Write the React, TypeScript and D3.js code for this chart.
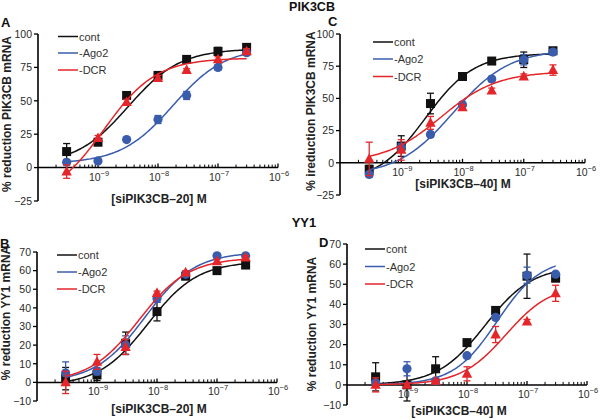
import React from 'react';
import * as d3 from 'd3';

// ---------- shared ----------
const doses = [3e-10, 1e-9, 3e-9, 1e-8, 3e-8, 1e-7, 3e-7];
const seriesNames = ['cont', '-Ago2', '-DCR'];
const seriesColors = ['#111111', '#3a5cad', '#e4262b'];
const seriesShapes = ['square', 'circle', 'triangle'];
const xMajorTicks = [1e-9, 1e-8, 1e-7, 1e-6];
const xMajorExp = ['−9', '−8', '−7', '−6'];

// ---------- Panel A : PIK3CB, siPIK3CB-20 ----------
const aCont = [12, 19, 54, 69, 81, 87, 90];
const aContErr = [6, 2, 2, 2, 2, 3, 2];
const aAgo2 = [4, 5, 21, 36, 54, 75, 86];
const aAgo2Err = [2, 1, 1, 3, 3, 2, 2];
const aDcr = [-3, 22, 49, 67, 73, 81, 87];
const aDcrErr = [5, 2, 2, 2, 1, 2, 2];
const aFits = [
  [2, 89, -8.5, 1.0],
  [3, 90, -7.75, 1.0],
  [-25, 82, -8.9, 1.0],
];
const aYTicks = [-25, 0, 25, 50, 75, 100];

// ---------- Panel C : PIK3CB, siPIK3CB-40 ----------
const cCont = [-5, 13, 46, 67, 79, 80, 87];
const cContErr = [3, 8, 8, 2, 2, 6, 2];
const cAgo2 = [-9, 12, 22, 45, 65, 80, 86];
const cAgo2Err = [2, 3, 2, 2, 2, 4, 2];
const cDcr = [3, 10, 31, 43, 56, 67, 72];
const cDcrErr = [13, 8, 5, 2, 2, 2, 4];
const cFits = [
  [-15, 85, -8.6, 1.1],
  [-10, 88, -8.15, 0.95],
  [0, 71, -8.35, 0.95],
];
const cYTicks = [-25, 0, 25, 50, 75, 100];

// ---------- Panel B : YY1, siPIK3CB-20 ----------
const bCont = [2, 4, 21, 38, 57, 60, 63];
const bContErr = [6, 3, 6, 5, 1, 1, 1];
const bAgo2 = [5, 6, 20, 45, 58, 68, 68];
const bAgo2Err = [6, 2, 5, 2, 1, 1, 1];
const bDcr = [0, 11, 19, 48, 59, 65, 67];
const bDcrErr = [6, 4, 4, 1, 1, 1, 1];
const bFits = [
  [-2, 65, -8.15, 1.05],
  [0, 70, -8.2, 1.05],
  [0, 67, -8.3, 1.05],
];
const bYTicks = [-10, 0, 10, 20, 30, 40, 50, 60, 70];

// ---------- Panel D : YY1, siPIK3CB-40 ----------
const dCont = [4, 0, 8, 21, 37, 54, 53];
const dContErr = [7, 8, 6, 1, 1, 11, 1];
const dAgo2 = [1, 8, 2, 14.5, 33.5, 54.5, 55];
const dAgo2Err = [1, 3.5, 1, 1, 1, 4, 1];
const dDcr = [0, 0, 2, 5.5, 25, 31.5, 45.5];
const dDcrErr = [3.5, 0, 0, 3.5, 4, 1, 4];
const dFits = [
  [0, 59, -7.7, 1.1],
  [0, 63, -7.5, 1.2],
  [0, 50, -7.35, 1.15],
];
const dYTicks = [-10, 0, 10, 20, 30, 40, 50, 60, 70];

const FONT = 'Liberation Sans, Arial, Helvetica, sans-serif';

function logistic(p: number[], x: number) {
  const [bottom, top, logEC, hill] = p;
  return bottom + (top - bottom) / (1 + Math.pow(10, (logEC - Math.log10(x)) * hill));
}

function fmtTick(t: number): string {
  return t < 0 ? '\u2212' + String(Math.abs(t)) : String(t);
}

function Marker({ shape, cx, cy, color }: any) {
  if (shape === 'square') {
    return <rect x={cx - 4.5} y={cy - 4.5} width={9} height={9} fill={color} />;
  }
  if (shape === 'circle') {
    return <circle cx={cx} cy={cy} r={4.6} fill={color} />;
  }
  const s = 5.2;
  return (
    <path
      d={`M${cx},${cy - s - 0.5} L${cx + s},${cy + s * 0.75} L${cx - s},${cy + s * 0.75} Z`}
      fill={color}
    />
  );
}

function Panel(props: any) {
  const {
    xRange, yRange, yDomain, yTicks, values, errors, fits, legendX, legendY,
    yLabel, yLabelX, yLabelY, xLabel, xLabelX, xLabelY, letter, letterX, letterY,
  } = props;
  const x = d3.scaleLog().domain([1e-10, 1e-6]).range(xRange);
  const y = d3.scaleLinear().domain(yDomain).range(yRange);
  const y0 = y(0);
  const ax = xRange[0];
  const minor: number[] = [];
  for (let e = -10; e < -6; e++) {
    for (let m = 2; m <= 9; m++) minor.push(m * Math.pow(10, e));
  }
  const curveXs = d3.range(0, 121).map((i) => Math.pow(10, Math.log10(3e-10) + (i / 120) * 3));
  const yTop = y(yDomain[1]);
  const yBot = y(yDomain[0]);

  return (
    <g>
      <text x={letterX} y={letterY} fontFamily={FONT} fontSize={13} fontWeight="bold" fill="#111">
        {letter}
      </text>
      <path d={`M${ax},${yTop}V${yBot}`} stroke="#000" strokeWidth={1.6} fill="none" />
      {yTicks.map((t: number) => (
        <path key={'t' + t} d={`M${ax - 4},${y(t)}H${ax}`} stroke="#000" strokeWidth={1.3} fill="none" />
      ))}
      {yTicks.map((t: number) => (
        <text
          key={'l' + t}
          x={ax - 6}
          y={y(t) + 3.8}
          fontFamily={FONT}
          fontSize={10.5}
          textAnchor="end"
          fill="#2a2a2a"
        >
          {fmtTick(t)}
        </text>
      ))}
      <path d={`M${ax},${y0}H${xRange[1]}`} stroke="#000" strokeWidth={1.5} fill="none" />
      {minor.map((m, i) => (
        <path key={i} d={`M${x(m)},${y0}V${y0 - 3}`} stroke="#000" strokeWidth={1} fill="none" />
      ))}
      {xMajorTicks.map((t, i) => (
        <g key={t}>
          <path d={`M${x(t)},${y0 - 4}V${y0}`} stroke="#000" strokeWidth={1.3} fill="none" />
          <text x={x(t) + 1} y={y0 + 13} fontFamily={FONT} fontSize={10.5} textAnchor="middle" fill="#2a2a2a">
            <tspan>10</tspan>
            <tspan dy={-5} fontSize={7.5}>
              {xMajorExp[i]}
            </tspan>
          </text>
        </g>
      ))}
      <text
        transform={`translate(${yLabelX},${yLabelY}) rotate(-90)`}
        fontFamily={FONT}
        fontSize={12}
        fontWeight="bold"
        textAnchor="middle"
        fill="#222"
      >
        {yLabel}
      </text>
      <text x={xLabelX} y={xLabelY} fontFamily={FONT} fontSize={12} fontWeight="bold" textAnchor="middle" fill="#222">
        {xLabel}
      </text>
      {values.map((vals: number[], si: number) => {
        const color = seriesColors[si];
        const path = d3
          .line<number>()
          .x((d) => x(d))
          .y((d) => y(logistic(fits[si], d)))(curveXs);
        return (
          <g key={si}>
            <path d={path || ''} fill="none" stroke={color} strokeWidth={1.5} />
            {vals.map((v, i) => {
              const e = errors[si][i];
              const cx = x(doses[i]);
              return (
                <g key={i}>
                  {e > 0 && (
                    <g stroke={color} strokeWidth={1.3}>
                      <line x1={cx} x2={cx} y1={y(v - e)} y2={y(v + e)} />
                      <line x1={cx - 3.5} x2={cx + 3.5} y1={y(v + e)} y2={y(v + e)} />
                      <line x1={cx - 3.5} x2={cx + 3.5} y1={y(v - e)} y2={y(v - e)} />
                    </g>
                  )}
                  <Marker shape={seriesShapes[si]} cx={cx} cy={y(v)} color={color} />
                </g>
              );
            })}
          </g>
        );
      })}
      {seriesNames.map((n, i) => (
        <g key={n}>
          <path d={`M${legendX},${legendY[i]}H${legendX + 20}`} stroke={seriesColors[i]} strokeWidth={1.5} />
          <text x={legendX + 21} y={legendY[i] + 4} fontFamily={FONT} fontSize={11} fill="#333">
            {n}
          </text>
        </g>
      ))}
    </g>
  );
}

export default function App() {
  return (
    <svg
      width={600}
      height={420}
      viewBox="0 0 600 420"
      style={{ position: 'absolute', left: 0, top: 0, background: '#fff' }}
    >
      <text x={312} y={10.5} fontFamily={FONT} fontSize={12.5} fontWeight="bold" textAnchor="middle" fill="#111">
        PIK3CB
      </text>
      <text x={304} y={227} fontFamily={FONT} fontSize={13} fontWeight="bold" textAnchor="middle" fill="#111">
        YY1
      </text>
      <Panel
        xRange={[38, 278]}
        yRange={[201, 34]}
        yDomain={[-25, 100]}
        yTicks={aYTicks}
        values={[aCont, aAgo2, aDcr]}
        errors={[aContErr, aAgo2Err, aDcrErr]}
        fits={aFits}
        legendX={58}
        legendY={[36.5, 53, 70]}
        yLabel="% reduction PIK3CB mRNA"
        yLabelX={11}
        yLabelY={114}
        xLabel="[siPIK3CB–20] M"
        xLabelX={159}
        xLabelY={203}
        letter="A"
        letterX={1}
        letterY={27}
      />
      <Panel
        xRange={[340, 585]}
        yRange={[195, 34]}
        yDomain={[-25, 100]}
        yTicks={cYTicks}
        values={[cCont, cAgo2, cDcr]}
        errors={[cContErr, cAgo2Err, cDcrErr]}
        fits={cFits}
        legendX={373}
        legendY={[42, 59, 76.5]}
        yLabel="% ireduction PIK3CB mRNA"
        yLabelX={315}
        yLabelY={111}
        xLabel="[siPIK3CB–40] M"
        xLabelX={463}
        xLabelY={188}
        letter="C"
        letterX={328}
        letterY={26}
      />
      <Panel
        xRange={[37, 277]}
        yRange={[401, 252]}
        yDomain={[-10, 70]}
        yTicks={bYTicks}
        values={[bCont, bAgo2, bDcr]}
        errors={[bContErr, bAgo2Err, bDcrErr]}
        fits={bFits}
        legendX={57}
        legendY={[255, 272, 289]}
        yLabel="% reduction YY1 mRNA"
        yLabelX={10}
        yLabelY={313}
        xLabel="[siPIK3CB–20] M"
        xLabelX={159}
        xLabelY={413}
        letter="B"
        letterX={0}
        letterY={248}
      />
      <Panel
        xRange={[347, 587]}
        yRange={[405, 244]}
        yDomain={[-10, 70]}
        yTicks={dYTicks}
        values={[dCont, dAgo2, dDcr]}
        errors={[dContErr, dAgo2Err, dDcrErr]}
        fits={dFits}
        legendX={365}
        legendY={[249, 266.5, 284]}
        yLabel="% reduction YY1 mRNA"
        yLabelX={316}
        yLabelY={324}
        xLabel="[siPIK3CB–40] M"
        xLabelX={459}
        xLabelY={415}
        letter="D"
        letterX={319}
        letterY={247}
      />
    </svg>
  );
}
